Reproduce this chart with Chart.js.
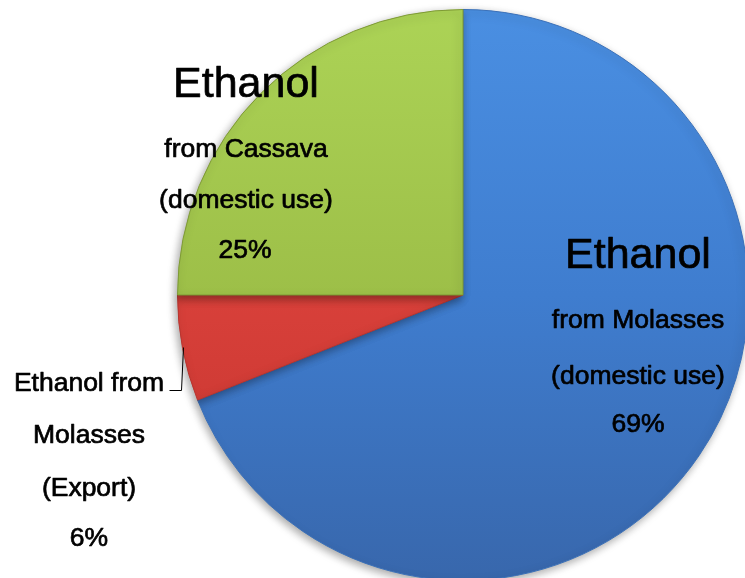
<!DOCTYPE html>
<html>
<head>
<meta charset="utf-8">
<script src="https://cdn.jsdelivr.net/npm/chart.js@4/dist/chart.umd.min.js"></script>
<style>
html,body{margin:0;padding:0;width:745px;height:578px;overflow:hidden;background:#fff;}
#wrap{position:absolute;left:0;top:0;width:926px;height:590px;}
</style>
</head>
<body>
<div id="wrap"><canvas id="c"></canvas></div>
<script>
const categories = ["Ethanol from Molasses (domestic use)", "Ethanol from Molasses (Export)", "Ethanol from Cassava (domestic use)"];
const shares = [69, 6, 25];
const labelLines = [
  ["Ethanol", "from Molasses", "(domestic use)", "69%"],
  ["Ethanol from", "Molasses", "(Export)", "6%"],
  ["Ethanol", "from Cassava", "(domestic use)", "25%"]
];
const gradStops = [
  ["#4a8fe2", "#3f7dcf", "#3867ac"],
  ["#e4534c", "#d8403a", "#c2332d"],
  ["#acd356", "#9dbf48", "#8eab3c"]
];

function grad(ctx, chart, i) {
  const a = chart.chartArea;
  if (!a) return gradStops[i][1];
  const g = ctx.createLinearGradient(0, a.top, 0, a.bottom);
  g.addColorStop(0, gradStops[i][0]);
  g.addColorStop(0.5, gradStops[i][1]);
  g.addColorStop(1, gradStops[i][2]);
  return g;
}

function txt(ctx, s, x, y) {
  ctx.strokeText(s, x, y);
  ctx.fillText(s, x, y);
}

const textPlugin = {
  id: 'texts',
  beforeDatasetsDraw(chart) {
    const ctx = chart.ctx;
    ctx.save();
    ctx.shadowColor = 'rgba(0,0,0,0.35)';
    ctx.shadowBlur = 8;
    ctx.shadowOffsetX = -2;
    ctx.shadowOffsetY = 3;
  },
  afterDatasetsDraw(chart) {
    const ctx = chart.ctx;
    ctx.restore();
    ctx.save();
    ctx.fillStyle = '#000';
    ctx.strokeStyle = '#000';
    ctx.lineWidth = 0.7;
    ctx.lineJoin = 'round';
    ctx.textAlign = 'center';
    ctx.textBaseline = 'alphabetic';
    const big = '43px "Liberation Sans", Arial, sans-serif';
    const small = '26.5px "Liberation Sans", Arial, sans-serif';
    // green (cassava)
    const L2 = labelLines[2];
    ctx.font = big;  txt(ctx, L2[0], 246, 97);
    ctx.font = small;
    txt(ctx, L2[1], 246, 157);
    txt(ctx, L2[2], 246, 208);
    txt(ctx, L2[3], 245, 258);
    // blue (molasses domestic)
    const L0 = labelLines[0];
    ctx.font = big;  txt(ctx, L0[0], 638, 268);
    ctx.font = small;
    txt(ctx, L0[1], 638, 328);
    txt(ctx, L0[2], 638, 384);
    txt(ctx, L0[3], 638, 432);
    // red (export)
    const L1 = labelLines[1];
    ctx.font = small;
    txt(ctx, L1[0], 89, 391);
    txt(ctx, L1[1], 89, 443);
    txt(ctx, L1[2], 89, 496);
    txt(ctx, L1[3], 89, 546);
    // leader line
    ctx.lineWidth = 1;
    ctx.beginPath();
    ctx.moveTo(169.5, 390.5);
    ctx.lineTo(181.5, 390.5);
    ctx.lineTo(183.5, 347.5);
    ctx.stroke();
    ctx.restore();
  }
};

new Chart(document.getElementById('c'), {
  type: 'pie',
  data: {
    labels: categories,
    datasets: [{
      data: shares,
      backgroundColor: (c) => grad(c.chart.ctx, c.chart, c.dataIndex),
      borderColor: ['#3a70b8', '#b8342e', '#7e9a35'],
      borderWidth: 1
    }]
  },
  options: {
    responsive: true,
    maintainAspectRatio: false,
    animation: false,
    layout: { padding: { left: 177, right: 177, top: 9, bottom: 9 } },
    plugins: { legend: { display: false }, tooltip: { enabled: false } }
  },
  plugins: [textPlugin]
});
</script>
</body>
</html>
